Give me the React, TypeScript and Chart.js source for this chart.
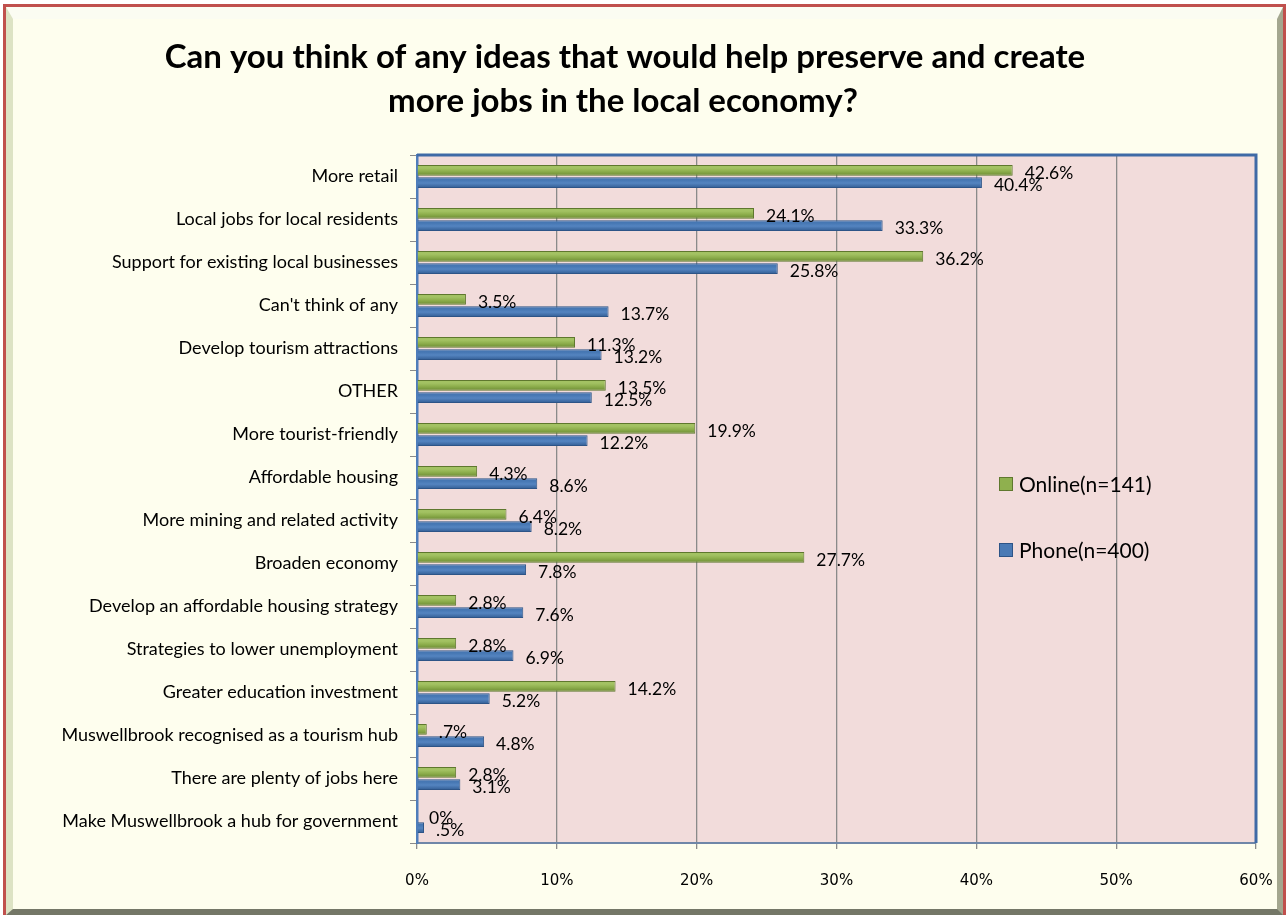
import React, { useEffect, useRef } from "react";
import { Chart, registerables } from "chart.js";

Chart.register(...registerables);

const titleLines = [
  "Can you think of any ideas that would help preserve and create",
  "more jobs in the local economy?",
];

const categories = [
  "More retail",
  "Local jobs for local residents",
  "Support for existing local businesses",
  "Can't think of any",
  "Develop tourism attractions",
  "OTHER",
  "More tourist-friendly",
  "Affordable housing",
  "More mining and related activity",
  "Broaden economy",
  "Develop an affordable housing strategy",
  "Strategies to lower unemployment",
  "Greater education investment",
  "Muswellbrook recognised as a tourism hub",
  "There are plenty of jobs here",
  "Make Muswellbrook a hub for government",
];

const onlineValues = [42.6, 24.1, 36.2, 3.5, 11.3, 13.5, 19.9, 4.3, 6.4, 27.7, 2.8, 2.8, 14.2, 0.7, 2.8, 0];
const phoneValues = [40.4, 33.3, 25.8, 13.7, 13.2, 12.5, 12.2, 8.6, 8.2, 7.8, 7.6, 6.9, 5.2, 4.8, 3.1, 0.5];

const onlineLabels = ["42.6%", "24.1%", "36.2%", "3.5%", "11.3%", "13.5%", "19.9%", "4.3%", "6.4%", "27.7%", "2.8%", "2.8%", "14.2%", ".7%", "2.8%", "0%"];
const phoneLabels = ["40.4%", "33.3%", "25.8%", "13.7%", "13.2%", "12.5%", "12.2%", "8.6%", "8.2%", "7.8%", "7.6%", "6.9%", "5.2%", "4.8%", "3.1%", ".5%"];

const seriesNames = ["Online(n=141)", "Phone(n=400)"];
const xTicks = [0, 10, 20, 30, 40, 50, 60];

const GREEN = "#8fb04e";
const GREEN_DARK = "#5f782e";
const BLUE = "#4a7ab5";
const BLUE_DARK = "#2d5487";

function barGradient(ctx: any, light: string, mid: string, dark: string, up: boolean) {
  const chart = ctx.chart;
  const yScale = chart.scales && chart.scales.y;
  if (!yScale || ctx.dataIndex === undefined) return mid;
  const c = yScale.getPixelForValue(ctx.dataIndex);
  if (!isFinite(c)) return mid;
  const y0 = up ? c - 12 : c;
  const y1 = up ? c : c + 12;
  const g = chart.ctx.createLinearGradient(0, y0, 0, y1);
  g.addColorStop(0, light);
  g.addColorStop(0.3, light);
  g.addColorStop(0.55, mid);
  g.addColorStop(0.85, dark);
  g.addColorStop(1, dark);
  return g;
}

const decorPlugin = {
  id: "decor",
  beforeDraw(chart: any) {
    const { ctx, chartArea: a } = chart;
    ctx.save();
    ctx.fillStyle = "#f2dcdb";
    ctx.fillRect(a.left, a.top, a.right - a.left, a.bottom - a.top);
    ctx.restore();
  },
  afterDraw(chart: any) {
    const { ctx, chartArea: a } = chart;
    ctx.save();
    ctx.strokeStyle = "#3f6aa6";
    ctx.lineWidth = 3;
    ctx.beginPath();
    ctx.moveTo(a.left, a.top);
    ctx.lineTo(a.right, a.top);
    ctx.lineTo(a.right, a.bottom);
    ctx.stroke();

    ctx.fillStyle = "#000";
    ctx.font = "bold 33px Lato";
    ctx.textAlign = "center";
    ctx.textBaseline = "alphabetic";
    ctx.fillText(titleLines[0], 625, 68);
    ctx.fillText(titleLines[1], 623, 112);

    ctx.font = "17.5px Lato";
    ctx.textAlign = "left";
    ctx.textBaseline = "middle";
    const labelSets = [onlineLabels, phoneLabels];
    [0, 1].forEach((di) => {
      const meta = chart.getDatasetMeta(di);
      meta.data.forEach((el: any, i: number) => {
        ctx.fillText(labelSets[di][i], el.x + 12, el.y + 3);
      });
    });

    const items = [
      { y: 484, fill: GREEN, stroke: GREEN_DARK },
      { y: 550, fill: BLUE, stroke: BLUE_DARK },
    ];
    ctx.font = "21px Lato";
    items.forEach((it, i) => {
      ctx.fillStyle = it.fill;
      ctx.fillRect(999, it.y - 7, 14, 14);
      ctx.strokeStyle = it.stroke;
      ctx.lineWidth = 1;
      ctx.strokeRect(999.5, it.y - 6.5, 13, 13);
      ctx.fillStyle = "#000";
      ctx.fillText(seriesNames[i], 1019, it.y + 1);
    });
    ctx.restore();
  },
};

export default function App() {
  const ref = useRef<HTMLCanvasElement>(null);
  useEffect(() => {
    if (!ref.current) return;
    const chart = new Chart(ref.current, {
      type: "bar",
      data: {
        labels: categories,
        datasets: [
          {
            label: seriesNames[0],
            data: onlineValues,
            backgroundColor: (c: any) => barGradient(c, "#a3c263", GREEN, "#739339", true),
            borderColor: GREEN_DARK,
            borderWidth: 1,
            categoryPercentage: 0.57,
            barPercentage: 0.88,
          },
          {
            label: seriesNames[1],
            data: phoneValues,
            backgroundColor: (c: any) => barGradient(c, "#4677b3", "#5484c0", "#3b679f", false),
            borderColor: BLUE_DARK,
            borderWidth: 1,
            categoryPercentage: 0.57,
            barPercentage: 0.88,
          },
        ],
      },
      options: {
        indexAxis: "y",
        responsive: false,
        animation: false,
        layout: { padding: { left: 0, top: 155, right: 30, bottom: 0 } },
        plugins: {
          legend: { display: false },
          title: { display: false },
          tooltip: { enabled: false },
        },
        scales: {
          x: {
            min: 0,
            max: 60,
            afterFit: (s: any) => {
              s.height = 72;
              s.paddingLeft = 0;
              s.paddingRight = 0;
            },
            afterBuildTicks: (s: any) => {
              s.ticks = xTicks.map((v) => ({ value: v }));
            },
            ticks: {
              callback: (v: any) => v + "%",
              font: { family: "DejaVu Sans", size: 15 },
              color: "#000",
              padding: 23,
              maxRotation: 0,
            },
            grid: {
              color: "#8a8a8a",
              lineWidth: 1.3,
              tickLength: 6,
              drawTicks: true,
            },
            border: { display: true, color: "#6f86a8", width: 2 },
          },
          y: {
            afterFit: (s: any) => {
              s.width = 417;
            },
            ticks: {
              font: { family: "Lato", size: 18 },
              color: "#000",
              padding: 12,
            },
            grid: {
              drawOnChartArea: false,
              color: "#8a8a8a",
              tickLength: 7,
              offset: true,
            },
            border: { display: true, color: "#4f7dba", width: 2.5 },
          },
        },
      },
      plugins: [decorPlugin],
    });
    return () => chart.destroy();
  }, []);

  return (
    <div style={{ position: "absolute", left: 0, top: 0, width: 1286, height: 915, overflow: "hidden", background: "#ffffff" }}>
      <div
        style={{
          position: "absolute",
          left: 3,
          top: 4,
          width: 1283,
          height: 911,
          boxSizing: "border-box",
          borderLeft: "3px solid #c0504d",
          borderTop: "3px solid #c0504d",
          borderRight: "3px solid #c0504d",
          background: "#fefeee",
        }}
      >
        <div
          style={{
            position: "absolute",
            left: 0,
            top: 0,
            right: 0,
            bottom: 0,
            boxSizing: "border-box",
            borderLeft: "7px solid #dde3c4",
            borderTop: "12px solid #fbfcf2",
            borderRight: "6px solid #a4a78f",
            borderBottom: "6px solid #747767",
          }}
        />
      </div>
      <canvas ref={ref} width={1286} height={915} style={{ position: "absolute", left: 0, top: 0, width: 1286, height: 915 }} />
    </div>
  );
}
